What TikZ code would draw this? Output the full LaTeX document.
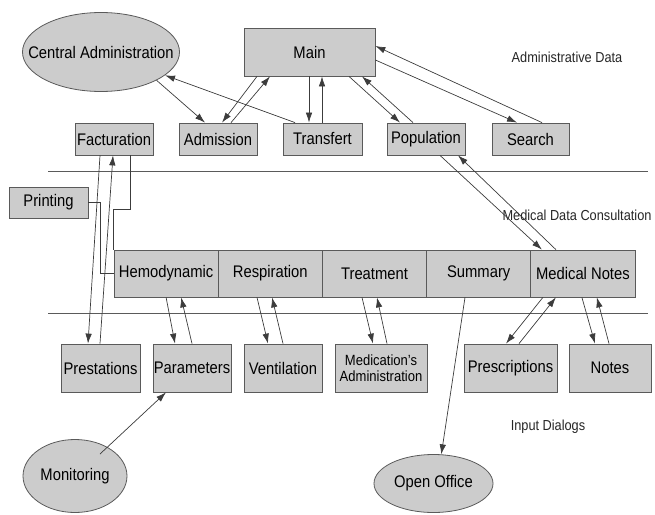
\documentclass[tikz,border=0pt]{standalone}
\usepackage{fontspec}
\setmainfont{Liberation Sans}[FakeStretch=0.88]
\usetikzlibrary{shapes.geometric,arrows.meta}
\definecolor{boxfill}{HTML}{CCCCCC}
\definecolor{edgecol}{HTML}{5A5A5A}
\definecolor{wirecol}{HTML}{3C3C3C}
\tikzstyle{box} = [draw=edgecol, fill=boxfill, inner sep=0pt, font=\fontsize{16.8}{18}\selectfont]
\tikzstyle{oval} = [ellipse, draw=edgecol, fill=boxfill, inner xsep=-20pt, inner ysep=0pt, font=\fontsize{16.8}{18}\selectfont]
\tikzstyle{lbl} = [text=black!85, font=\fontsize{14.5}{16}\selectfont]
\tikzstyle{wire} = [draw=wirecol, line width=0.7pt]

\begin{document}
\begin{tikzpicture}[x=1pt, y=-1pt, line width=0.8pt, >={Latex[length=10pt,width=6.5pt]}]
	  \useasboundingbox (0,0) rectangle (655,514);

	  % administrative data
	  \node (cadm) at (101,52) [oval, minimum width=157pt, minimum height=79pt] {Central Administration};
	  \node (main) at (309.5,52) [box, minimum width=131pt, minimum height=48pt] {Main};
	  \node (fact) at (114,139) [box, minimum width=78pt, minimum height=32pt] {Facturation};
	  \node (admis) at (218,139) [box, minimum width=78pt, minimum height=32pt] {Admission};
	  \node (transf) at (322.5,139) [box, minimum width=79pt, minimum height=32pt] {Transfert};
	  \node (popul) at (426,139) [box, minimum width=78pt, minimum height=32pt] {Population};
	  \node (search) at (530.5,139) [box, minimum width=77pt, minimum height=32pt] {Search};
	  \node (print) at (48.5,202.5) [box, minimum width=79pt, minimum height=31pt] {Printing};
	  \node (admlbl) at (567,57) [lbl] {Administrative Data};

	  \draw [edgecol] (48,171) -- (648,171);

	  % medical data consultation
	  \node (hemo) at (166.1,273.5) [box, minimum width=104.2pt, minimum height=47pt] {Hemodynamic};
	  \node (resp) at (270.3,273.5) [box, minimum width=104.2pt, minimum height=47pt] {Respiration};
	  \node (treat) at (374.5,273.5) [box, minimum width=104.2pt, minimum height=47pt] {Treatment};
	  \node (summ) at (478.7,273.5) [box, minimum width=104.2pt, minimum height=47pt] {Summary};
	  \node (mnotes) at (582.9,273.5) [box, minimum width=104.2pt, minimum height=47pt] {Medical Notes};
	  \node (medlbl) at (577,215) [lbl] {Medical Data Consultation};

	  \draw [edgecol] (48,313) -- (648,313);

	  % input dialogs
	  \node (prest) at (100.5,368) [box, minimum width=79pt, minimum height=48pt] {Prestations};
	  \node (param) at (192,368) [box, minimum width=78pt, minimum height=48pt] {Parameters};
	  \node (vent) at (283,368) [box, minimum width=78pt, minimum height=48pt] {Ventilation};
	  \node (medic) at (381,368) [box, minimum width=92pt, minimum height=48pt, align=center,
	        font=\fontsize{14.8}{16}\selectfont] {Medication's\\Administration};
	  \node (presc) at (510.5,368) [box, minimum width=93pt, minimum height=48pt] {Prescriptions};
	  \node (notes) at (610,368) [box, minimum width=82pt, minimum height=48pt] {Notes};
	  \node (inlbl) at (548,427) [lbl] {Input Dialogs};
	  \node (monit) at (75,476) [oval, minimum width=104pt, minimum height=73pt] {Monitoring};
	  \node (ooff) at (433.5,483.5) [oval, minimum width=119pt, minimum height=58pt] {Open Office};

	  \draw [->, wire] (cadm.-27) to ([xshift=-13pt]admis.north);
	  \draw [->, wire] ([xshift=-27.5pt]transf.north) to (cadm.-20);
	  \draw [->, wire] ([xshift=-52.5pt]main.south) to ([xshift=4pt]admis.north);
	  \draw [->, wire] ([xshift=13pt]admis.north) to ([xshift=-39.5pt]main.south);
	  \draw [->, wire] ([xshift=-0.5pt]main.south) to ([xshift=-13.5pt]transf.north);
	  \draw [->, wire] ([xshift=-0.5pt]transf.north) to ([xshift=12.5pt]main.south);
	  \draw [->, wire] ([xshift=39.5pt]main.south) to ([xshift=-26pt]popul.north);
	  \draw [->, wire] ([xshift=-13pt]popul.north) to ([xshift=52.5pt]main.south);
	  \draw [->, wire] ([yshift=-8pt]main.east) to ([xshift=-13.5pt]search.north);
	  \draw [->, wire] ([xshift=11.5pt]search.north) to ([yshift=6pt]main.east);
	  \draw [->, wire] ([xshift=14pt]popul.south) to ([xshift=-41pt]mnotes.north);
	  \draw [->, wire] ([xshift=-27pt]mnotes.north) to ([xshift=32pt]popul.south);

	  \draw [->, wire] ([xshift=-14pt]fact.south) to ([xshift=-12.5pt]prest.north);
	  \draw [->, wire] ([xshift=-0.5pt]prest.north) to ([xshift=-1pt]fact.south);
	  \draw [wire] (print.east) -- ++(12,0) |- (hemo.west);
	  \draw [wire] ([xshift=16pt]fact.south) -- ++(0,54) -| (hemo.north west);

	  \draw [->, wire] (hemo.south) to ([xshift=-17pt]param.north);
	  \draw [->, wire] (param.north) to ([xshift=15pt]hemo.south);
	  \draw [->, wire] ([xshift=-13.3pt]resp.south) to ([xshift=-15pt]vent.north);
	  \draw [->, wire] (vent.north) to ([xshift=1.7pt]resp.south);
	  \draw [->, wire] ([xshift=-12.5pt]treat.south) to ([xshift=-8pt]medic.north);
	  \draw [->, wire] ([xshift=6pt]medic.north) to ([xshift=2.5pt]treat.south);
	  \draw [->, wire] ([xshift=-13.7pt]summ.south) to (ooff.75);
	  \draw [->, wire] ([xshift=-40pt]mnotes.south) to ([xshift=-4.5pt]presc.north);
	  \draw [->, wire] ([xshift=8.5pt]presc.north) to ([xshift=-27pt]mnotes.south);
	  \draw [->, wire] ([xshift=-1pt]mnotes.south) to ([xshift=-15pt]notes.north);
	  \draw [->, wire] ([xshift=-1pt]notes.north) to ([xshift=14pt]mnotes.south);
	  \draw [->, wire] ([xshift=25pt,yshift=22pt]monit.center) to ([xshift=-26pt]param.south);
	\end{tikzpicture}
\end{document}
